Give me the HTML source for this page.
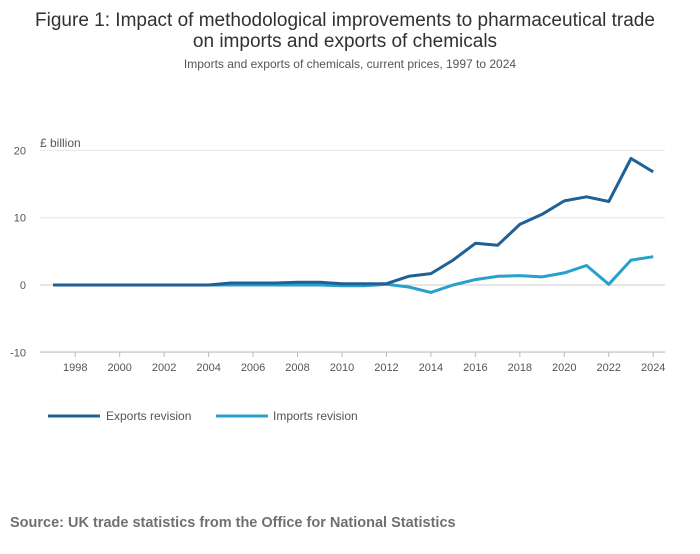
<!DOCTYPE html>
<html><head><meta charset="utf-8"><style>
body{margin:0;background:#fff;font-family:"Liberation Sans",sans-serif;}
svg text{font-family:"Liberation Sans",sans-serif;}
</style></head><body>
<svg width="700" height="549" viewBox="0 0 700 549">
<text x="345" y="26" text-anchor="middle" font-size="19" fill="#323132">Figure 1: Impact of methodological improvements to pharmaceutical trade</text>
<text x="345" y="47" text-anchor="middle" font-size="19" fill="#323132">on imports and exports of chemicals</text>
<text x="350" y="68" text-anchor="middle" font-size="12" fill="#555">Imports and exports of chemicals, current prices, 1997 to 2024</text>
<text x="40" y="147" font-size="12" fill="#555">£ billion</text>
<g id="grid"></g>
<g id="series"></g>
<g>
<line x1="48" y1="416" x2="100" y2="416" stroke="#206095" stroke-width="3"/>
<text x="106" y="420" font-size="12" fill="#555">Exports revision</text>
<line x1="216" y1="416" x2="268" y2="416" stroke="#27a0cc" stroke-width="3"/>
<text x="273" y="420" font-size="12" fill="#555">Imports revision</text>
</g>
<text x="10" y="527" font-size="14.5" font-weight="bold" fill="#707071">Source: UK trade statistics from the Office for National Statistics</text>
</svg>
<script>
const years=[1997,1998,1999,2000,2001,2002,2003,2004,2005,2006,2007,2008,2009,2010,2011,2012,2013,2014,2015,2016,2017,2018,2019,2020,2021,2022,2023,2024];
const exportsRev=[0,0,0,0,0,0,0,0,0.3,0.3,0.3,0.4,0.4,0.2,0.2,0.2,1.3,1.7,3.7,6.2,5.9,9.0,10.5,12.5,13.1,12.4,18.8,16.8];
const importsRev=[0,0,0,0,0,0,0,0,0,0,0,0,0,-0.1,-0.1,0.1,-0.3,-1.1,0,0.8,1.3,1.4,1.2,1.8,2.9,0.1,3.7,4.2];
const yTicks=[-10,0,10,20];
const xTicks=[1998,2000,2002,2004,2006,2008,2010,2012,2014,2016,2018,2020,2022,2024];
const NS="http://www.w3.org/2000/svg";
const xS=y=>53+(y-1997)*22.23;
const yS=v=>285-v*6.73;
function mk(t,a,p){const e=document.createElementNS(NS,t);for(const k in a)e.setAttribute(k,a[k]);p.appendChild(e);return e;}
const g=document.getElementById('grid');
yTicks.forEach(v=>{
 const l=mk('line',{x1:40,x2:665,y1:yS(v),y2:yS(v),stroke:v===0?'#ccc':'#e6e6e6','stroke-width':1},g);
 
 
 const t=mk('text',{x:26,y:yS(v)+4,'font-size':11,fill:'#555','text-anchor':'end'},g);
 t.textContent=v;
 
 
});
const ax=mk('line',{x1:40,x2:665,y1:352,y2:352,stroke:'#bbb'},g);


xTicks.forEach(y=>{
 const tk=mk('line',{x1:xS(y),x2:xS(y),y1:352,y2:357,stroke:'#bbb'},g);
 
 
 const t=mk('text',{x:xS(y),y:371,'font-size':11,fill:'#555','text-anchor':'middle'},g);
 t.textContent=y;
 
 
});
const s=document.getElementById('series');
function line(vals,col,name){
 const d=vals.map((v,i)=>(i?'L':'M')+xS(years[i]).toFixed(1)+' '+yS(v).toFixed(1)).join(' ');
 const p=mk('path',{d:d,fill:'none',stroke:col,'stroke-width':3,'stroke-linejoin':'round'},s);
 
 
}
line(importsRev,'#27a0cc','imports-revision-line');
line(exportsRev,'#206095','exports-revision-line');
</script>
</body></html>
